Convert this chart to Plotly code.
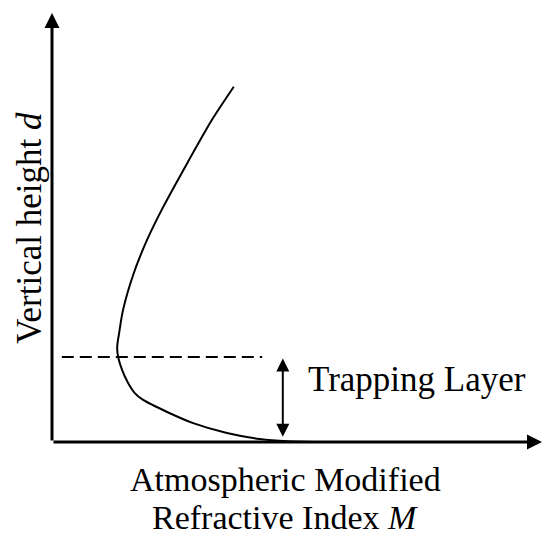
import plotly.graph_objects as go

# refractive index profile (arbitrary units 0-100)
m_vals = [74.5, 53.3, 48.0, 42.4, 35.7, 28.8, 23.5, 18.6, 16.9, 15.5, 14.3, 13.5, 13.3, 13.7,
          14.5, 16.7, 19.4, 22.7, 27.6, 32.65, 37.1]
d_vals = [0.0, 0.0, 0.15, 0.7, 2.1, 4.4, 7.0, 9.8, 11.4, 13.8, 16.8, 19.8, 22.1, 25.4,
          30.8, 39.4, 47.1, 54.8, 65.0, 75.1, 82.8]

trap_top = 19.8
trap_x = 47.1
dash_start, dash_end = 2.0, 42.9

serif = "Liberation Serif, Times New Roman, serif"

fig = go.Figure()

fig.add_trace(go.Scatter(
    x=m_vals, y=d_vals, mode="lines",
    line=dict(color="black", width=2, shape="spline", smoothing=0.8),
    hoverinfo="skip", showlegend=False
))

fig.add_trace(go.Scatter(
    x=[dash_start, dash_end], y=[trap_top, trap_top], mode="lines",
    line=dict(color="black", width=2, dash="12px,6px"),
    hoverinfo="skip", showlegend=False
))

arrows = [
    # axes
    dict(x=0, y=100, ax=0, ay=0, arrowhead=2, arrowwidth=3, arrowsize=1),
    dict(x=100, y=0, ax=0, ay=0, arrowhead=2, arrowwidth=3, arrowsize=1),
    # trapping layer double arrow
    dict(x=trap_x, y=1.2, ax=trap_x, ay=trap_top, arrowhead=2, arrowwidth=2,
         arrowsize=1.3, arrowside="end+start"),
]
for a in arrows:
    fig.add_annotation(xref="x", yref="y", axref="x", ayref="y", text="",
                       showarrow=True, arrowcolor="black", **a)

fig.add_annotation(x=51.8, y=14.5, xref="x", yref="y", text="Trapping Layer",
                   showarrow=False, xanchor="left", yanchor="middle",
                   font=dict(family=serif, size=35, color="black"))

fig.add_annotation(x=-0.045, y=0.499, xref="paper", yref="paper",
                   text="Vertical height <i>d</i>", textangle=-90,
                   showarrow=False, xanchor="center", yanchor="middle",
                   font=dict(family=serif, size=35, color="black"))

fig.add_annotation(x=0.476, y=-0.0866, xref="paper", yref="paper",
                   text="Atmospheric Modified", showarrow=False,
                   xanchor="center", yanchor="middle",
                   font=dict(family=serif, size=34, color="black"))
fig.add_annotation(x=0.476, y=-0.1752, xref="paper", yref="paper",
                   text="Refractive Index <i>M</i>", showarrow=False,
                   xanchor="center", yanchor="middle",
                   font=dict(family=serif, size=34, color="black"))

fig.update_xaxes(range=[0, 100], visible=False, fixedrange=True)
fig.update_yaxes(range=[0, 100], visible=False, fixedrange=True)

# page body has an 8px margin, so the plot area is shifted up/left by 8px
fig.update_layout(
    width=550, height=543,
    margin=dict(l=44, r=16, t=5, b=109),
    plot_bgcolor="white", paper_bgcolor="white",
    showlegend=False
)

fig.write_html("out.html")
